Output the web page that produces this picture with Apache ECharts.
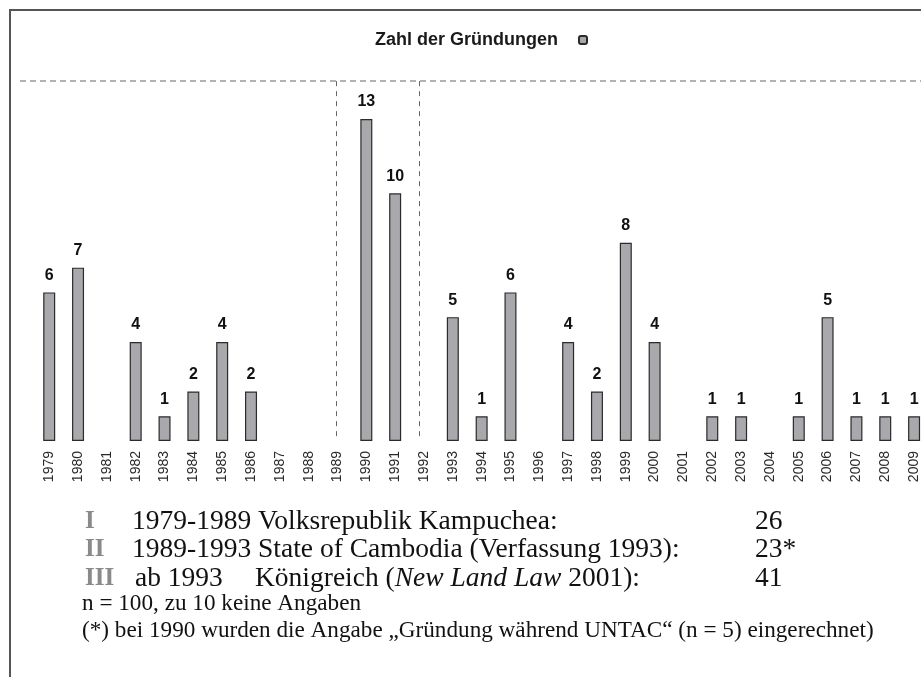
<!DOCTYPE html>
<html>
<head>
<meta charset="utf-8">
<script src="https://cdn.jsdelivr.net/npm/echarts@6/dist/echarts.min.js"></script>
<style>
html, body { margin: 0; padding: 0; background: #fff; overflow: hidden; }
#main { width: 930px; height: 677px; }
</style>
</head>
<body>
<div id="main"></div>
<script>
var years = ['1979', '1980', '1981', '1982', '1983', '1984', '1985', '1986', '1987', '1988',
    '1989', '1990', '1991', '1992', '1993', '1994', '1995', '1996', '1997', '1998',
    '1999', '2000', '2001', '2002', '2003', '2004', '2005', '2006', '2007', '2008', '2009'];
var counts = [6, 7, null, 4, 1, 2, 4, 2, null, null,
    null, 13, 10, null, 5, 1, 6, null, 4, 2,
    8, 4, null, 1, 1, null, 1, 5, 1, 1, 1];
// period boundaries, in category index units
var periodBounds = [9.94, 12.84];

var periodNums = ['I', 'II', 'III'];
var periodYears = ['1979-1989', '1989-1993', 'ab 1993'];
var periodNames = [
    'Volksrepublik Kampuchea:',
    'State of Cambodia (Verfassung 1993):',
    '{n|Königreich (}{i|New Land Law}{n| 2001):}'
];
var periodTotals = ['26', '23*', '41'];
var notes = [
    'n = 100, zu 10 keine Angaben',
    '(*) bei 1990 wurden die Angabe \u201eGründung während UNTAC\u201c (n = 5) eingerechnet)'
];

var serif = 'Liberation Serif, Times New Roman, serif';
var sans = 'Liberation Sans, Arial, sans-serif';
var fs = 27.5;

var graphics = [
    { type: 'polyline', shape: { points: [[10, 677], [10, 10], [930, 10]] },
      style: { stroke: '#555', lineWidth: 2, fill: null } },
    { type: 'line', shape: { x1: 20, y1: 81, x2: 930, y2: 81 },
      style: { stroke: '#666', lineWidth: 1, lineDash: [6, 4] } }
];

var rowY = [522, 550, 579];
periodNums.forEach(function (num, i) {
    graphics.push({ type: 'text', x: 85, y: rowY[i],
        style: { text: num, font: 'bold 25px ' + serif, fill: '#8a8a8a', verticalAlign: 'middle' } });
    if (i < 2) {
        graphics.push({ type: 'text', x: 132, y: rowY[i],
            style: { text: periodYears[i] + ' ' + periodNames[i], font: fs + 'px ' + serif,
                fill: '#111', verticalAlign: 'middle' } });
    } else {
        graphics.push({ type: 'text', x: 135, y: rowY[i],
            style: { text: periodYears[i], font: fs + 'px ' + serif, fill: '#111', verticalAlign: 'middle' } });
        graphics.push({ type: 'text', x: 255, y: rowY[i],
            style: { text: periodNames[i], font: fs + 'px ' + serif, fill: '#111', verticalAlign: 'middle',
                rich: {
                    n: { fontFamily: serif, fontSize: fs, fill: '#111' },
                    i: { fontFamily: serif, fontSize: fs, fontStyle: 'italic', fill: '#111' }
                } } });
    }
    graphics.push({ type: 'text', x: 755, y: rowY[i],
        style: { text: periodTotals[i], font: fs + 'px ' + serif, fill: '#111', verticalAlign: 'middle' } });
});

var noteY = [604, 631];
notes.forEach(function (t, i) {
    graphics.push({ type: 'text', x: 82, y: noteY[i],
        style: { text: t, font: '23.2px ' + serif, fill: '#111', verticalAlign: 'middle' } });
});

var chart = echarts.init(document.getElementById('main'));
var option = {
    animation: false,
    legend: {
        data: ['Zahl der Gründungen'],
        top: 26,
        left: 370,
        align: 'right',
        itemWidth: 8,
        itemHeight: 8,
        textStyle: { fontFamily: sans, fontWeight: 'bold', fontSize: 18, color: '#1a1a1a', padding: [0, 16, 0, 0] }
    },
    grid: { left: 34.8, top: 69.5, width: 893.7, height: 371.5 },
    xAxis: [{
        type: 'category',
        data: years,
        axisLine: { show: false },
        axisTick: { show: false },
        axisLabel: { rotate: 90, interval: 0, margin: 10, fontSize: 14, color: '#2a2a2a', fontFamily: sans }
    }, {
        type: 'value', min: -0.5, max: 30.5, show: false
    }],
    yAxis: { type: 'value', min: 0, max: 15, show: false, splitLine: { show: false } },
    series: [{
        name: 'Zahl der Gründungen',
        type: 'bar',
        data: counts,
        barWidth: 12,
        itemStyle: { color: '#a9a9ad', borderColor: '#2b2b2b', borderWidth: 1.2 },
        label: { show: true, position: 'top', distance: 9, fontSize: 16, fontWeight: 'bold',
            color: '#111', fontFamily: sans }
    }, {
        type: 'line',
        xAxisIndex: 1,
        data: [],
        markLine: {
            symbol: 'none',
            silent: true,
            label: { show: false },
            lineStyle: { type: [5, 5], color: '#666', width: 1 },
            data: periodBounds.map(function (b) {
                return [{ coord: [b, 14.53] }, { coord: [b, 0.16] }];
            })
        }
    }],
    graphic: graphics
};
option && chart.setOption(option);
</script>
</body>
</html>
